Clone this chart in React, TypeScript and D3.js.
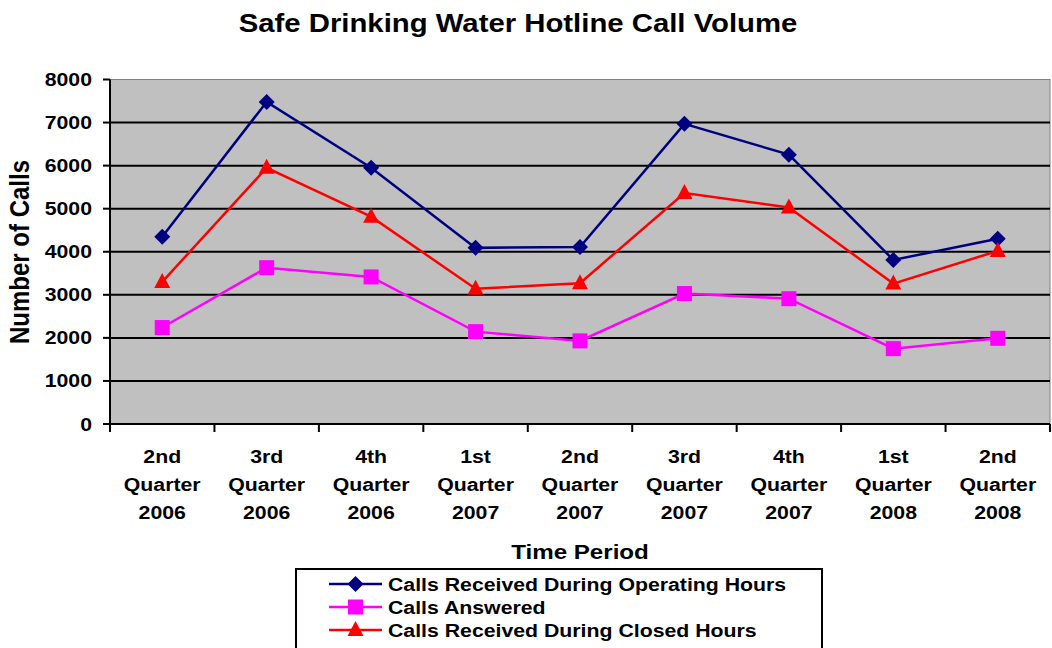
import React from 'react';
import * as d3 from 'd3';

const periods = [
  ['2nd', 'Quarter', '2006'],
  ['3rd', 'Quarter', '2006'],
  ['4th', 'Quarter', '2006'],
  ['1st', 'Quarter', '2007'],
  ['2nd', 'Quarter', '2007'],
  ['3rd', 'Quarter', '2007'],
  ['4th', 'Quarter', '2007'],
  ['1st', 'Quarter', '2008'],
  ['2nd', 'Quarter', '2008'],
];
const operatingHours = [4350, 7480, 5950, 4090, 4110, 6970, 6255, 3810, 4300];
const answered = [2240, 3630, 3415, 2145, 1930, 3030, 2910, 1750, 1990];
const closedHours = [3300, 5950, 4815, 3140, 3270, 5365, 5030, 3260, 4020];
const yTicks = [0, 1000, 2000, 3000, 4000, 5000, 6000, 7000, 8000];

const series = [
  { name: 'Calls Received During Operating Hours', values: operatingHours, color: '#000080', shape: 'diamond' },
  { name: 'Calls Answered', values: answered, color: '#FF00FF', shape: 'square' },
  { name: 'Calls Received During Closed Hours', values: closedHours, color: '#FF0000', shape: 'triangle' },
];

const FONT = '"Liberation Sans", Arial, sans-serif';
const SX = 1.15; // the source text is a little wider than plain Arial

function Txt({ x, y, size, anchor = 'middle', rotate = false, children }: any) {
  const t = `translate(${x},${y}) scale(${SX},1)` + (rotate ? ' rotate(-90)' : '');
  return (
    <text transform={t} fontFamily={FONT} fontWeight="bold" fontSize={size} textAnchor={anchor} fill="#000">
      {children}
    </text>
  );
}

function Marker({ shape, x, y, color }: any) {
  if (shape === 'diamond') {
    return <path d={`M${x},${y - 8}L${x + 8},${y}L${x},${y + 8}L${x - 8},${y}Z`} fill={color} />;
  }
  if (shape === 'square') {
    return <rect x={x - 7.5} y={y - 7.5} width={15} height={15} fill={color} />;
  }
  return <path d={`M${x},${y - 9}L${x + 8},${y + 6}L${x - 8},${y + 6}Z`} fill={color} />;
}

export default function App() {
  const left = 110, right = 1050, top = 79.5, bottom = 424;
  const x = d3.scaleBand<number>().domain(d3.range(periods.length)).range([left, right]);
  const cx = (i: number) => (x(i) as number) + x.bandwidth() / 2;
  const y = d3.scaleLinear().domain([0, 8000]).range([bottom, top]);
  const line = d3.line<number>().x((d, i) => cx(i)).y(d => y(d));

  return (
    <svg width={1052} height={648} style={{ position: 'absolute', left: 0, top: 0, background: '#fff' }}>
      <Txt x={518} y={32} size={25.5}>Safe Drinking Water Hotline Call Volume</Txt>

      <rect x={left} y={top} width={right - left} height={bottom - top} fill="#C0C0C0" stroke="#808080" strokeWidth={1} />
      {yTicks.slice(1, -1).map(t => (
        <line key={t} x1={left} x2={right} y1={y(t)} y2={y(t)} stroke="#000" strokeWidth={2} />
      ))}

      {/* axes */}
      <line x1={left} x2={left} y1={top} y2={bottom + 1} stroke="#000" strokeWidth={2} />
      <line x1={left - 7} x2={right} y1={bottom} y2={bottom} stroke="#000" strokeWidth={2} />
      {yTicks.map(t => (
        <g key={t}>
          <line x1={left - 7} x2={left} y1={y(t)} y2={y(t)} stroke="#000" strokeWidth={2} />
          <Txt x={92} y={y(t) + 6.5} size={18.5} anchor="end">{t}</Txt>
        </g>
      ))}
      {d3.range(periods.length + 1).map(i => {
        const px = left + i * x.bandwidth();
        return <line key={i} x1={px} x2={px} y1={bottom} y2={bottom + 8} stroke="#000" strokeWidth={2} />;
      })}
      {periods.map((p, i) => (
        <g key={i}>
          {p.map((s, j) => (
            <Txt key={j} x={cx(i)} y={463 + j * 28} size={18.5}>{s}</Txt>
          ))}
        </g>
      ))}

      <Txt x={29} y={252} size={24} rotate>Number of Calls</Txt>
      <Txt x={580} y={559} size={21}>Time Period</Txt>

      {series.map(s => (
        <g key={s.name}>
          <path d={line(s.values) as string} fill="none" stroke={s.color} strokeWidth={2.5} />
          {s.values.map((v, i) => (
            <Marker key={i} shape={s.shape} x={cx(i)} y={y(v)} color={s.color} />
          ))}
        </g>
      ))}

      {/* legend */}
      <rect x={296} y={569} width={526} height={100} fill="#fff" stroke="#000" strokeWidth={2} />
      {series.map((s, i) => {
        const ly = 584 + i * 23;
        return (
          <g key={s.name}>
            <line x1={329} x2={382} y1={ly} y2={ly} stroke={s.color} strokeWidth={2.5} />
            <Marker shape={s.shape} x={355.5} y={ly} color={s.color} />
            <Txt x={388} y={ly + 6.5} size={18.5} anchor="start">{s.name}</Txt>
          </g>
        );
      })}
    </svg>
  );
}
